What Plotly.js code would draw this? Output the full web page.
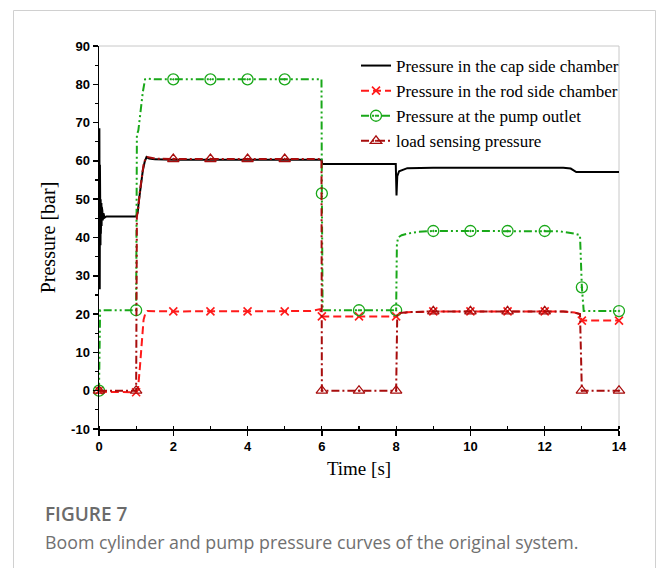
<!DOCTYPE html>
<html>
<head>
<meta charset="utf-8">
<script src="https://cdn.plot.ly/plotly-3.0.1.min.js"></script>
<style>
html,body{margin:0;padding:0;background:#fff;}
#chart{width:656px;height:568px;}
</style>
</head>
<body>
<div id="chart"></div>
<script>
// ---- Data ----
var seriesNames = [
  "Pressure in the cap side chamber",
  "Pressure in the rod side chamber",
  "Pressure at the pump outlet",
  "load sensing pressure"
];

// Cap side chamber pressure (bar)
var tCap = [0, 0.01, 0.02, 0.025, 0.03, 0.035, 0.04, 0.045, 0.05, 0.055, 0.06, 0.065, 0.07, 0.075, 0.08, 0.09, 0.1, 0.12, 0.15, 0.2, 1.0, 1.04, 1.08, 1.13, 1.18, 1.23, 1.28, 1.35, 1.5, 2, 3, 4, 5, 5.99, 6.01, 7, 7.99, 8.01, 8.03, 8.08, 8.15, 8.3, 9, 10, 11, 12, 12.5, 12.7, 12.78, 12.85, 13, 14];
var pCap = [45, 68.5, 26.5, 59, 35, 55, 38, 50, 41, 49.5, 42, 49, 43, 48, 44, 47, 44.5, 46.3, 45.2, 45.5, 45.5, 46.5, 50, 54, 57.5, 59.8, 61, 60.6, 60.4, 60.3, 60.3, 60.3, 60.3, 60.3, 59.2, 59.2, 59.2, 51, 56, 57.3, 57.6, 58.1, 58.2, 58.2, 58.2, 58.2, 58.2, 58.0, 57.6, 57.1, 57.1, 57.1];

// Rod side chamber pressure (bar)
var tRod = [0, 0.1, 1.0, 1.05, 1.1, 1.15, 1.2, 1.25, 1.3, 2, 3, 4, 5, 5.7, 5.95, 6.0, 6.03, 7, 8, 8.1, 8.3, 9, 10, 11, 12, 12.5, 12.8, 12.95, 13, 14];
var pRod = [0, -0.3, -0.4, 0.5, 6, 13, 18.5, 20.3, 20.8, 20.7, 20.7, 20.7, 20.7, 20.8, 21.3, 19.4, 19.4, 19.4, 19.4, 20.0, 20.5, 20.7, 20.7, 20.7, 20.7, 20.7, 20.4, 20.0, 18.3, 18.3];

// Pump outlet pressure (bar)
var tPump = [0, 0.03, 1.0, 1.02, 1.06, 1.12, 1.18, 1.24, 1.3, 1.5, 2, 3, 4, 5, 5.99, 6.0, 6.02, 7, 8, 8.02, 8.05, 8.15, 8.3, 8.6, 9, 10, 11, 12, 12.4, 12.8, 12.95, 13, 13.05, 14];
var pPump = [0, 21, 21, 66.8, 68, 73, 78, 81.3, 81.5, 81.3, 81.3, 81.3, 81.3, 81.3, 81.3, 51.5, 21, 21, 21, 38, 40, 40.6, 41, 41.5, 41.7, 41.7, 41.7, 41.7, 41.6, 41, 40.6, 27, 20.8, 20.8];

// Load sensing pressure (bar)
var tLs = [0, 1.0, 1.02, 1.05, 1.1, 1.15, 1.2, 1.25, 1.3, 1.5, 2, 3, 4, 5, 5.99, 6.0, 7, 8, 8.03, 8.1, 8.3, 9, 10, 11, 12, 12.5, 12.8, 12.95, 13, 14];
var pLs = [0, 0, 45.5, 47, 52, 56, 59, 60.6, 61, 60.6, 60.5, 60.5, 60.5, 60.5, 60.5, 0, 0, 0, 20, 20.3, 20.5, 20.7, 20.7, 20.7, 20.7, 20.7, 20.4, 20.0, 0, 0];

// Times at which the curve markers are placed
var markerTimes = [0, 1, 2, 3, 4, 5, 6, 7, 8, 9, 10, 11, 12, 13, 14];

var xTickVals = [0, 2, 4, 6, 8, 10, 12, 14];
var yTickVals = [-10, 0, 10, 20, 30, 40, 50, 60, 70, 80, 90];

var figureLabel = "FIGURE 7";
var captionText = "Boom cylinder and pump pressure curves of the original system.";

// ---- Build traces ----
// marker points picked from the series at markerTimes, separated by nulls so no line joins them
function markerPoints(t, p) {
  var mx = [], my = [];
  markerTimes.forEach(function (mt, k) {
    var i = t.indexOf(mt);
    if (i >= 0) {
      if (k > 0) { mx.push(null); my.push(null); }
      mx.push(t[i]); my.push(p[i]);
    }
  });
  return {x: mx, y: my};
}

var cRed = '#ff1a1a', cGreen = '#19a819', cDark = '#a80d0d';
var dashRod = '8px,4px';
var dashPump = '8px,3px,2px,3px,2px,3px';
var dashLs = '8px,3px,2px,3px';

var traces = [];
traces.push({x: tCap, y: pCap, mode: 'lines', name: seriesNames[0],
  line: {color: '#000', width: 2}, showlegend: true});

function addSeries(t, p, name, color, dash, symbol, size, lw) {
  traces.push({x: t, y: p, mode: 'lines', name: name, showlegend: false, legendgroup: name,
    line: {color: color, width: 2, dash: dash}, hoverinfo: 'skip'});
  var m = markerPoints(t, p);
  traces.push({x: m.x, y: m.y, mode: 'lines+markers', name: name, showlegend: true, legendgroup: name,
    connectgaps: false, cliponaxis: false,
    line: {color: color, width: 2, dash: dash},
    marker: {symbol: symbol, size: size, color: color, line: {color: color, width: lw}}});
}
addSeries(tRod, pRod, seriesNames[1], cRed, dashRod, 'x-thin-open', 8, 1.6);
addSeries(tPump, pPump, seriesNames[2], cGreen, dashPump, 'circle-open-dot', 11, 1.3);
addSeries(tLs, pLs, seriesNames[3], cDark, dashLs, 'triangle-up-open-dot', 10, 1.3);

// ---- Layout ----
var L = 99, R = 619, T = 46, B = 429, W = 656, H = 568;
var pw = R - L, ph = B - T;
function px(xp) { return (xp - L) / pw; }
function py(yp) { return (B - yp) / ph; }

var tickFont = {family: 'Liberation Sans, Arial, sans-serif', size: 13, color: '#000', weight: 'bold'};
var serif = 'Liberation Serif, Times New Roman, serif';

var layout = {
  width: W, height: H,
  margin: {l: L, r: W - R, t: T, b: H - B, pad: 0},
  paper_bgcolor: '#fff', plot_bgcolor: '#fff',
  showlegend: true,
  legend: {x: px(356), y: py(48), xanchor: 'left', yanchor: 'top',
    bgcolor: 'rgba(0,0,0,0)', borderwidth: 0,
    font: {family: serif, size: 17, color: '#000'}, itemwidth: 30, tracegroupgap: 0},
  xaxis: {
    range: [0, 14], tickvals: xTickVals, ticktext: xTickVals.map(String),
    showgrid: false, zeroline: false, showline: true, linecolor: '#000', linewidth: 1.5,
    ticks: 'outside', ticklen: 5, tickwidth: 1.5, tickcolor: '#000',
    minor: {dtick: 1, tick0: 0, ticks: 'inside', ticklen: 3, tickwidth: 1.2, tickcolor: '#000', showgrid: false},
    tickfont: tickFont,
    title: {text: 'Time [s]', font: {family: serif, size: 19, color: '#000'}, standoff: 8},
    fixedrange: true
  },
  yaxis: {
    range: [-10, 90], tickvals: yTickVals, ticktext: yTickVals.map(String),
    showgrid: false, zeroline: false, showline: true, linecolor: '#000', linewidth: 1.5,
    ticks: 'outside', ticklen: 5, tickwidth: 1.5, tickcolor: '#000',
    minor: {dtick: 5, tick0: 0, ticks: 'outside', ticklen: 3, tickwidth: 1.2, tickcolor: '#000', showgrid: false},
    tickfont: tickFont,
    title: {text: 'Pressure [bar]', font: {family: serif, size: 20, color: '#000'}, standoff: 10},
    fixedrange: true
  },
  shapes: [
    {type: 'line', xref: 'paper', yref: 'paper', x0: 0, x1: 1, y0: 1, y1: 1, line: {color: '#c8c8c8', width: 1}, layer: 'below'},
    {type: 'line', xref: 'paper', yref: 'paper', x0: 1, x1: 1, y0: 0, y1: 1, line: {color: '#c8c8c8', width: 1}, layer: 'below'},
    {type: 'rect', xref: 'paper', yref: 'paper', x0: px(13.5), x1: px(655.5), y0: py(620), y1: py(10.5),
      line: {color: '#d0d0d0', width: 1}, fillcolor: 'rgba(0,0,0,0)', layer: 'below'}
  ],
  annotations: [
    {xref: 'paper', yref: 'paper', x: px(43), y: py(514), xanchor: 'left', yanchor: 'middle', showarrow: false,
      text: figureLabel, font: {family: 'Open Sans, sans-serif', size: 19, color: '#6b6b6b', weight: 600}},
    {xref: 'paper', yref: 'paper', x: px(43), y: py(542), xanchor: 'left', yanchor: 'middle', showarrow: false,
      text: captionText, font: {family: 'Open Sans, sans-serif', size: 17.8, color: '#707070'}}
  ]
};

Plotly.newPlot('chart', traces, layout, {displayModeBar: false, staticPlot: true});
</script>
</body>
</html>
